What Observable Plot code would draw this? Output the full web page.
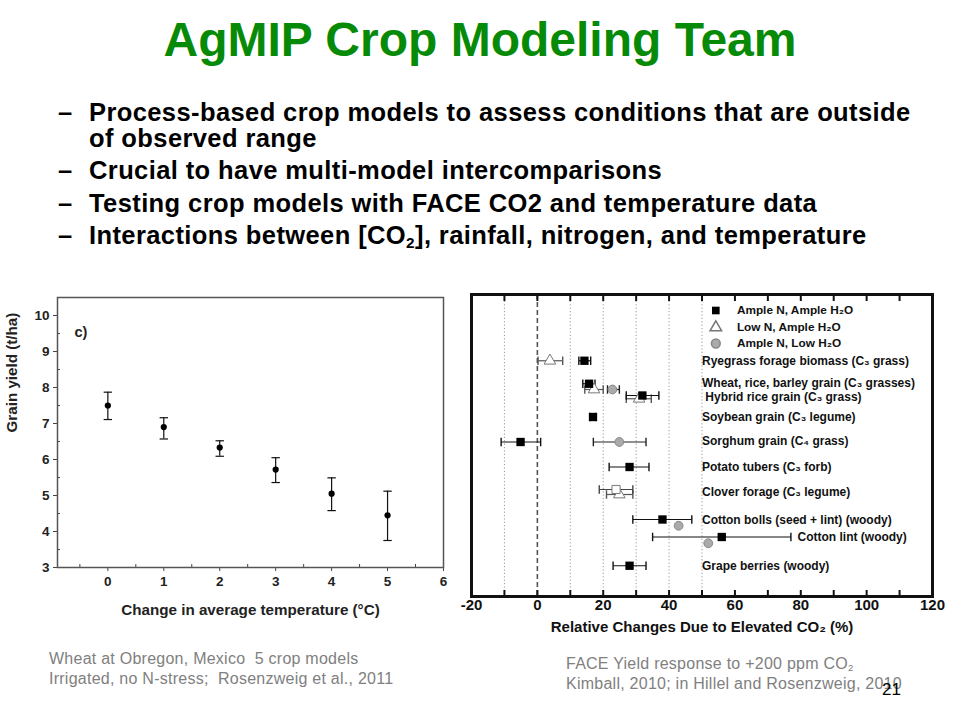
<!DOCTYPE html>
<html><head><meta charset="utf-8">
<script src="https://cdn.jsdelivr.net/npm/d3@7"></script>
<script src="https://cdn.jsdelivr.net/npm/@observablehq/plot@0.6"></script>
<style>
body{margin:0;width:960px;height:720px;position:relative;background:#fff;overflow:hidden;font-family:"Liberation Sans",Arial,sans-serif}
.abs{position:absolute;white-space:nowrap;line-height:1}
#title{left:0;width:960px;text-align:center;top:16px;font-size:48px;font-weight:bold;color:#078a07}
.bul{font-size:25.5px;font-weight:bold;color:#000;left:89px;letter-spacing:0.4px}
.dash{font-size:25.5px;font-weight:bold;color:#000;left:58px}
.foot{font-size:16px;color:#808080;letter-spacing:0.25px}
sub{font-size:0.6em;vertical-align:-0.25em;line-height:0}
#left{left:0;top:280px}
#right{left:455px;top:285px}
</style></head>
<body>
<div id="title" class="abs">AgMIP Crop Modeling Team</div>
<div class="abs dash" style="top:100px">–</div>
<div class="abs bul" style="top:100px">Process-based crop models to assess conditions that are outside</div>
<div class="abs bul" style="top:126px">of observed range</div>
<div class="abs dash" style="top:158px">–</div>
<div class="abs bul" style="top:158px">Crucial to have multi-model intercomparisons</div>
<div class="abs dash" style="top:191px">–</div>
<div class="abs bul" style="top:191px">Testing crop models with FACE CO2 and temperature data</div>
<div class="abs dash" style="top:223px">–</div>
<div class="abs bul" style="top:223px">Interactions between [CO<sub>2</sub>], rainfall, nitrogen, and temperature</div>
<div id="left" class="abs"></div>
<div id="right" class="abs"></div>
<div class="abs foot" style="left:49px;top:651px">Wheat at Obregon, Mexico&nbsp; 5 crop models</div>
<div class="abs foot" style="left:49px;top:671px">Irrigated, no N-stress;&nbsp; Rosenzweig et al., 2011</div>
<div class="abs foot" style="left:566px;top:656px">FACE Yield response to +200 ppm CO<sub>2</sub></div>
<div class="abs foot" style="left:566px;top:676px">Kimball, 2010; in Hillel and Rosenzweig, 2010</div>
<div class="abs" style="left:882px;top:681px;font-size:17px;color:#000">21</div>
<script>
// ---------- Left chart data ----------
const tempChange = [0, 1, 2, 3, 4, 5];
const yieldMean = [7.5, 6.9, 6.33, 5.72, 5.05, 4.45];
const yieldLo = [7.11, 6.57, 6.09, 5.36, 4.58, 3.75];
const yieldHi = [7.87, 7.16, 6.52, 6.05, 5.49, 5.12];
const leftXTicks = [0, 1, 2, 3, 4, 5, 6];
const leftYTicks = [3, 4, 5, 6, 7, 8, 9, 10];
const leftXMinor = [-0.5, 0.5, 1.5, 2.5, 3.5, 4.5, 5.5];
const leftYMinor = [3.5, 4.5, 5.5, 6.5, 7.5, 8.5, 9.5];

// ---------- Right chart data ----------
const crops = ["Ryegrass forage biomass (C₃ grass)", "Wheat, rice, barley grain (C₃ grasses)", "Hybrid rice grain (C₃ grass)", "Soybean grain (C₃ legume)", "Sorghum grain (C₄ grass)", "Potato tubers (C₃ forb)", "Clover forage (C₃ legume)", "Cotton bolls (seed + lint) (woody)", "Cotton lint (woody)", "Grape berries (woody)"];
const cropLabelRow = [2.68, 3.55, 4.12, 4.92, 5.88, 6.9, 7.9, 9.04, 9.72, 10.88];
const cropLabelX = [50, 50, 51, 50, 50, 50, 50, 50, 79, 50];
// Ample N, Ample H2O (filled squares)
const aaValue = [14.3, 15.7, 31.9, 16.9, -5.1, 28, 38, 56, 28];
const aaLo = [12.6, 13.8, 27, 16, -11, 21.8, 29, 35, 23];
const aaHi = [16.2, 17.5, 36.9, 17.7, 1, 33.9, 46.9, 77, 33];
const aaRow = [2.65, 3.57, 4.04, 4.9, 5.9, 6.9, 9.0, 9.7, 10.85];
// Clover (open square)
const osValue = [23.9];
const osLo = [18.8];
const osHi = [29];
const osRow = [7.8];
// Low N, Ample H2O (open triangles)
const lnValue = [3.8, 17.2, 30.9, 24.9];
const lnLo = [0.2, 14.4, 27, 21];
const lnHi = [7.7, 20, 34.6, 29];
const lnRow = [2.65, 3.8, 4.17, 8.0];
// Ample N, Low H2O (grey circles)
const lwValue = [22.8, 24.9, 42.9, 51.9];
const lwLo = [21.3, 17, null, null];
const lwHi = [24.9, 33, null, null];
const lwRow = [3.8, 5.9, 9.25, 9.95];
// legend
const legendLabels = ["Ample N, Ample H₂O", "Low N, Ample H₂O", "Ample N, Low H₂O"];
const legendRow = [0.64, 1.32, 1.96];
const legendX = 54.2, legendTextX = 60.6;
const rightLabelTicks = [-20, 0, 20, 40, 60, 80, 100, 120];
const rightTicks10 = d3.range(-20, 121, 10);
const dottedGrid = [-10, 10, 20, 30, 40, 50];

const font = "Liberation Sans, Arial, sans-serif";

// ---------- Left chart ----------
const L = tempChange.map((x, i) => ({x, y: yieldMean[i], lo: yieldLo[i], hi: yieldHi[i]}));
const capW = 0.075;
const left = Plot.plot({
  width: 460, height: 350,
  marginLeft: 57, marginRight: 17, marginTop: 17, marginBottom: 63,
  x: {domain: [-0.9, 6]},
  y: {domain: [3, 10.5]},
  style: {fontFamily: font, fontSize: "13px", fontWeight: "bold", color: "#222", background: "transparent", overflow: "visible"},
  marks: [
    Plot.axisX(leftXTicks, {tickSize: 4, tickPadding: 5, fontSize: 13.5, fontWeight: "bold", label: null, stroke: "#444"}),
    Plot.axisY(leftYTicks, {tickSize: 4, tickPadding: 4, fontSize: 13.5, fontWeight: "bold", label: null, stroke: "#444"}),
    Plot.axisX(leftXMinor, {tickSize: 3, dy: -3, text: null, label: null, stroke: "#444"}),
    Plot.axisY(leftYMinor, {tickSize: 3, dx: 3, text: null, label: null, stroke: "#444"}),
    Plot.frame({stroke: "#555", strokeWidth: 1.5}),
    Plot.ruleX(L, {x: "x", y1: "lo", y2: "hi", stroke: "#111", strokeWidth: 1.2}),
    Plot.link(L, {x1: d => d.x - capW, x2: d => d.x + capW, y1: "lo", y2: "lo", stroke: "#111", strokeWidth: 1.2}),
    Plot.link(L, {x1: d => d.x - capW, x2: d => d.x + capW, y1: "hi", y2: "hi", stroke: "#111", strokeWidth: 1.2}),
    Plot.dot(L, {x: "x", y: "y", r: 3.1, fill: "#000"}),
    Plot.text(["c)"], {frameAnchor: "top-left", dx: 17, dy: 29, textAnchor: "start", fontSize: 14.5, fontWeight: "bold", fill: "#222"}),
    Plot.text(["Change in average temperature (°C)"], {frameAnchor: "bottom", dy: 47, fontSize: 15.2, fontWeight: "bold", fill: "#222"}),
    Plot.text(["Grain yield (t/ha)"], {frameAnchor: "left", dx: -45, rotate: -90, fontSize: 15.2, fontWeight: "bold", fill: "#222"})
  ]
});
document.getElementById("left").append(left);

// ---------- Right chart ----------
const AA = aaValue.map((v, i) => ({v, lo: aaLo[i], hi: aaHi[i], row: aaRow[i]}));
const OS = osValue.map((v, i) => ({v, lo: osLo[i], hi: osHi[i], row: osRow[i]}));
const LN = lnValue.map((v, i) => ({v, lo: lnLo[i], hi: lnHi[i], row: lnRow[i]}));
const LW = lwValue.map((v, i) => ({v, lo: lwLo[i], hi: lwHi[i], row: lwRow[i]}));
const LWe = LW.filter(d => d.lo != null);
const capH = 0.17;
function errMarks(data, stroke) {
  return [
    Plot.link(data, {x1: "lo", x2: "hi", y1: "row", y2: "row", stroke, strokeWidth: 1.2}),
    Plot.link(data, {x1: "lo", x2: "lo", y1: d => d.row - capH, y2: d => d.row + capH, stroke, strokeWidth: 1.4}),
    Plot.link(data, {x1: "hi", x2: "hi", y1: d => d.row - capH, y2: d => d.row + capH, stroke, strokeWidth: 1.4})
  ];
}
const labels = crops.map((c, i) => ({c, x: cropLabelX[i], row: cropLabelRow[i]}));
const legend = legendLabels.map((t, i) => ({t, row: legendRow[i], x: legendX, tx: legendTextX}));
const right = Plot.plot({
  width: 495, height: 360,
  marginLeft: 16, marginRight: 18, marginTop: 9, marginBottom: 49,
  x: {domain: [-20, 120]},
  y: {domain: [0, 12.08], reverse: true, axis: null},
  style: {fontFamily: font, fontSize: "13px", fontWeight: "bold", color: "#111", background: "transparent", overflow: "visible"},
  marks: [
    Plot.ruleX(dottedGrid, {stroke: "#999", strokeDasharray: "1.2,2.2", strokeWidth: 1}),
    Plot.ruleX([0], {stroke: "#555", strokeDasharray: "5,3", strokeWidth: 1.6}),
    Plot.axisX(rightTicks10, {anchor: "bottom", tickSize: 6, dy: -6, text: null, label: null, strokeWidth: 2, stroke: "#111"}),
    Plot.axisX(rightTicks10, {anchor: "top", tickSize: 6, dy: 6, text: null, label: null, strokeWidth: 2, stroke: "#111"}),
    Plot.axisX(rightLabelTicks, {anchor: "bottom", tickSize: 0, tickPadding: 3, tickFormat: d => String(d), fontSize: 15, fontWeight: "bold", label: null}),
    Plot.frame({stroke: "#111", strokeWidth: 3}),
    ...errMarks(LN, "#555"),
    ...errMarks(OS, "#444"),
    ...errMarks(LWe, "#222"),
    ...errMarks(AA, "#111"),
    Plot.dot(LN, {x: "v", y: "row", symbol: "triangle", r: 4.3, fill: "#fff", stroke: "#777", strokeWidth: 1}),
    Plot.dot(OS, {x: "v", y: "row", symbol: "square", r: 4.6, fill: "#fff", stroke: "#777", strokeWidth: 1}),
    Plot.dot(LW, {x: "v", y: "row", symbol: "circle", r: 4.4, fill: "#aaa", stroke: "#888", strokeWidth: 1}),
    Plot.dot(AA, {x: "v", y: "row", symbol: "square", r: 4.7, fill: "#000", stroke: "none"}),
    Plot.dot(legend.slice(0, 1), {x: "x", y: "row", symbol: "square", r: 4.3, fill: "#000", stroke: "none"}),
    Plot.dot(legend.slice(1, 2), {x: "x", y: "row", symbol: "triangle", r: 4.3, fill: "#fff", stroke: "#777"}),
    Plot.dot(legend.slice(2, 3), {x: "x", y: "row", symbol: "circle", r: 4.4, fill: "#aaa", stroke: "#888"}),
    Plot.text(legend, {x: "tx", y: "row", text: "t", textAnchor: "start", fontSize: 11.8, fontWeight: "bold", fill: "#111"}),
    Plot.text(labels, {x: "x", y: "row", text: "c", textAnchor: "start", fontSize: 12, fontWeight: "bold", fill: "#111"}),
    Plot.text(["Relative Changes Due to Elevated CO₂ (%)"], {frameAnchor: "bottom", dy: 35, fontSize: 15, fontWeight: "bold", fill: "#111"})
  ]
});
document.getElementById("right").append(right);
</script>
</body></html>
